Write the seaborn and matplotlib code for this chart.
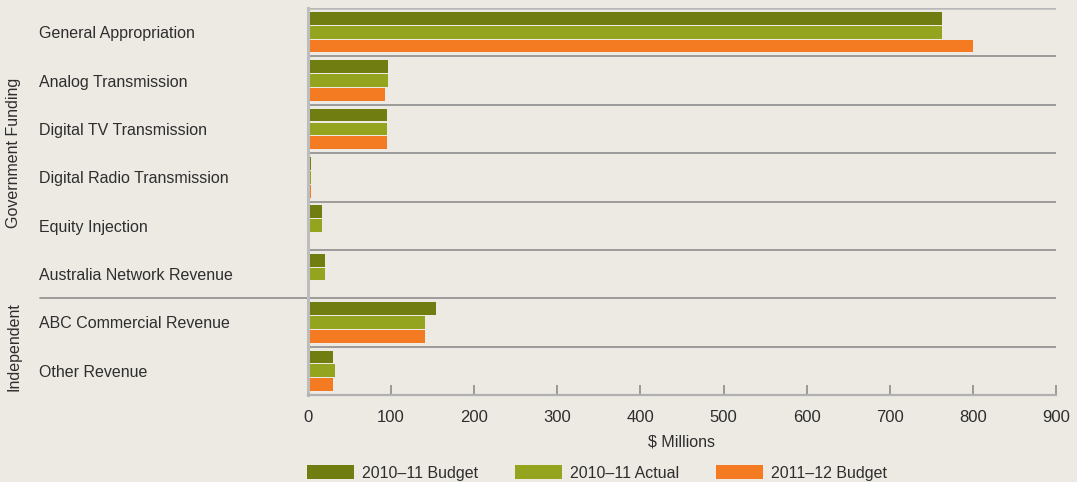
import pandas as pd
import matplotlib.pyplot as plt
import matplotlib.transforms as mtransforms
import seaborn as sns

categories = ['General Appropriation', 'Analog Transmission', 'Digital TV Transmission',
              'Digital Radio Transmission', 'Equity Injection', 'Australia Network Revenue',
              'ABC Commercial Revenue', 'Other Revenue']
series = ['2010\u201311 Budget', '2010\u201311 Actual', '2011\u201312 Budget']
budget_1011 = [763, 96, 95, 3.5, 17, 20, 154, 30]
actual_1011 = [763, 96, 95, 3.5, 17, 20, 141, 32.5]
budget_1112 = [800, 92.5, 95, 3.5, None, None, 141, 30]
groups = ['Government Funding', 'Independent']
group_spans = [(0, 5), (6, 7)]
xticks = [0, 100, 200, 300, 400, 500, 600, 700, 800, 900]

colors = ['#6F7D11', '#94A41F', '#F47B22']
bg = '#EDEAE4'
txt = '#2E2E2E'

rows = []
for s, vals in zip(series, [budget_1011, actual_1011, budget_1112]):
    for c, v in zip(categories, vals):
        if v is not None:
            rows.append({'Category': c, 'Series': s, 'Value': v})
df = pd.DataFrame(rows)

sns.set_theme(style='white')
plt.rcParams['font.family'] = ['Liberation Sans', 'DejaVu Sans']

fig = plt.figure(figsize=(10.77, 4.82), dpi=100, facecolor=bg)
ax = fig.add_axes([308 / 1077, 1 - 395 / 482, 748 / 1077, 387 / 482])
ax.set_facecolor(bg)

sns.barplot(data=df, y='Category', x='Value', hue='Series', order=categories,
            hue_order=series, palette=colors, orient='h', errorbar=None,
            width=0.86, gap=0.08, linewidth=0, ax=ax, saturation=1)
handles, labels = ax.get_legend_handles_labels()
ax.get_legend().remove()

ax.set_xlim(0, 900)
ax.set_ylim(len(categories) - 0.5, -0.5)
ax.set_xticks(xticks)
ax.set_xlabel('$ Millions', fontsize=11.5, color=txt, labelpad=7)
ax.set_ylabel('')
ax.tick_params(axis='x', bottom=True, direction='in', length=7, width=1.2, color='#8C8C8C',
               labelsize=12, labelcolor=txt, pad=11)
ax.tick_params(axis='y', left=False, length=0, labelsize=11.5, labelcolor=txt, pad=194)
for t in ax.get_yticklabels():
    t.set_ha('left')

for side in ['top', 'right']:
    ax.spines[side].set_visible(False)
ax.spines['left'].set_color('#BDBDBD')
ax.spines['left'].set_linewidth(2.2)
ax.spines['bottom'].set_color('#B0B0B0')
ax.spines['bottom'].set_linewidth(1.6)

# separators between categories
ax.axhline(-0.5, color='#B8B8B8', lw=1.8, zorder=0)
for i in range(len(categories) - 1):
    ax.axhline(i + 0.5, color='#8E8E8E', lw=1.2, zorder=0)

# group separator extends into the label area
blend = mtransforms.blended_transform_factory(ax.transAxes, ax.transData)
ax.plot([(40 - 308) / 748, 0], [5.5, 5.5], color='#8E8E8E', lw=1.2,
        transform=blend, clip_on=False)

# group labels
gblend = mtransforms.blended_transform_factory(fig.transFigure, ax.transData)
for g, (a, b) in zip(groups, group_spans):
    fig.text(14 / 1077, (a + b) / 2, g, rotation=90, ha='center', va='center',
             fontsize=11.5, color=txt, transform=gblend)

fig.legend(handles, labels, loc='upper left', bbox_to_anchor=(307 / 1077, 1 - 465 / 482),
           ncol=3, frameon=False, fontsize=11.5, handlelength=2.95, handleheight=1.0,
           borderpad=0, borderaxespad=0, columnspacing=2.3, handletextpad=0.5,
           labelcolor=txt)

fig.savefig('out.png', dpi=100, facecolor=bg)
